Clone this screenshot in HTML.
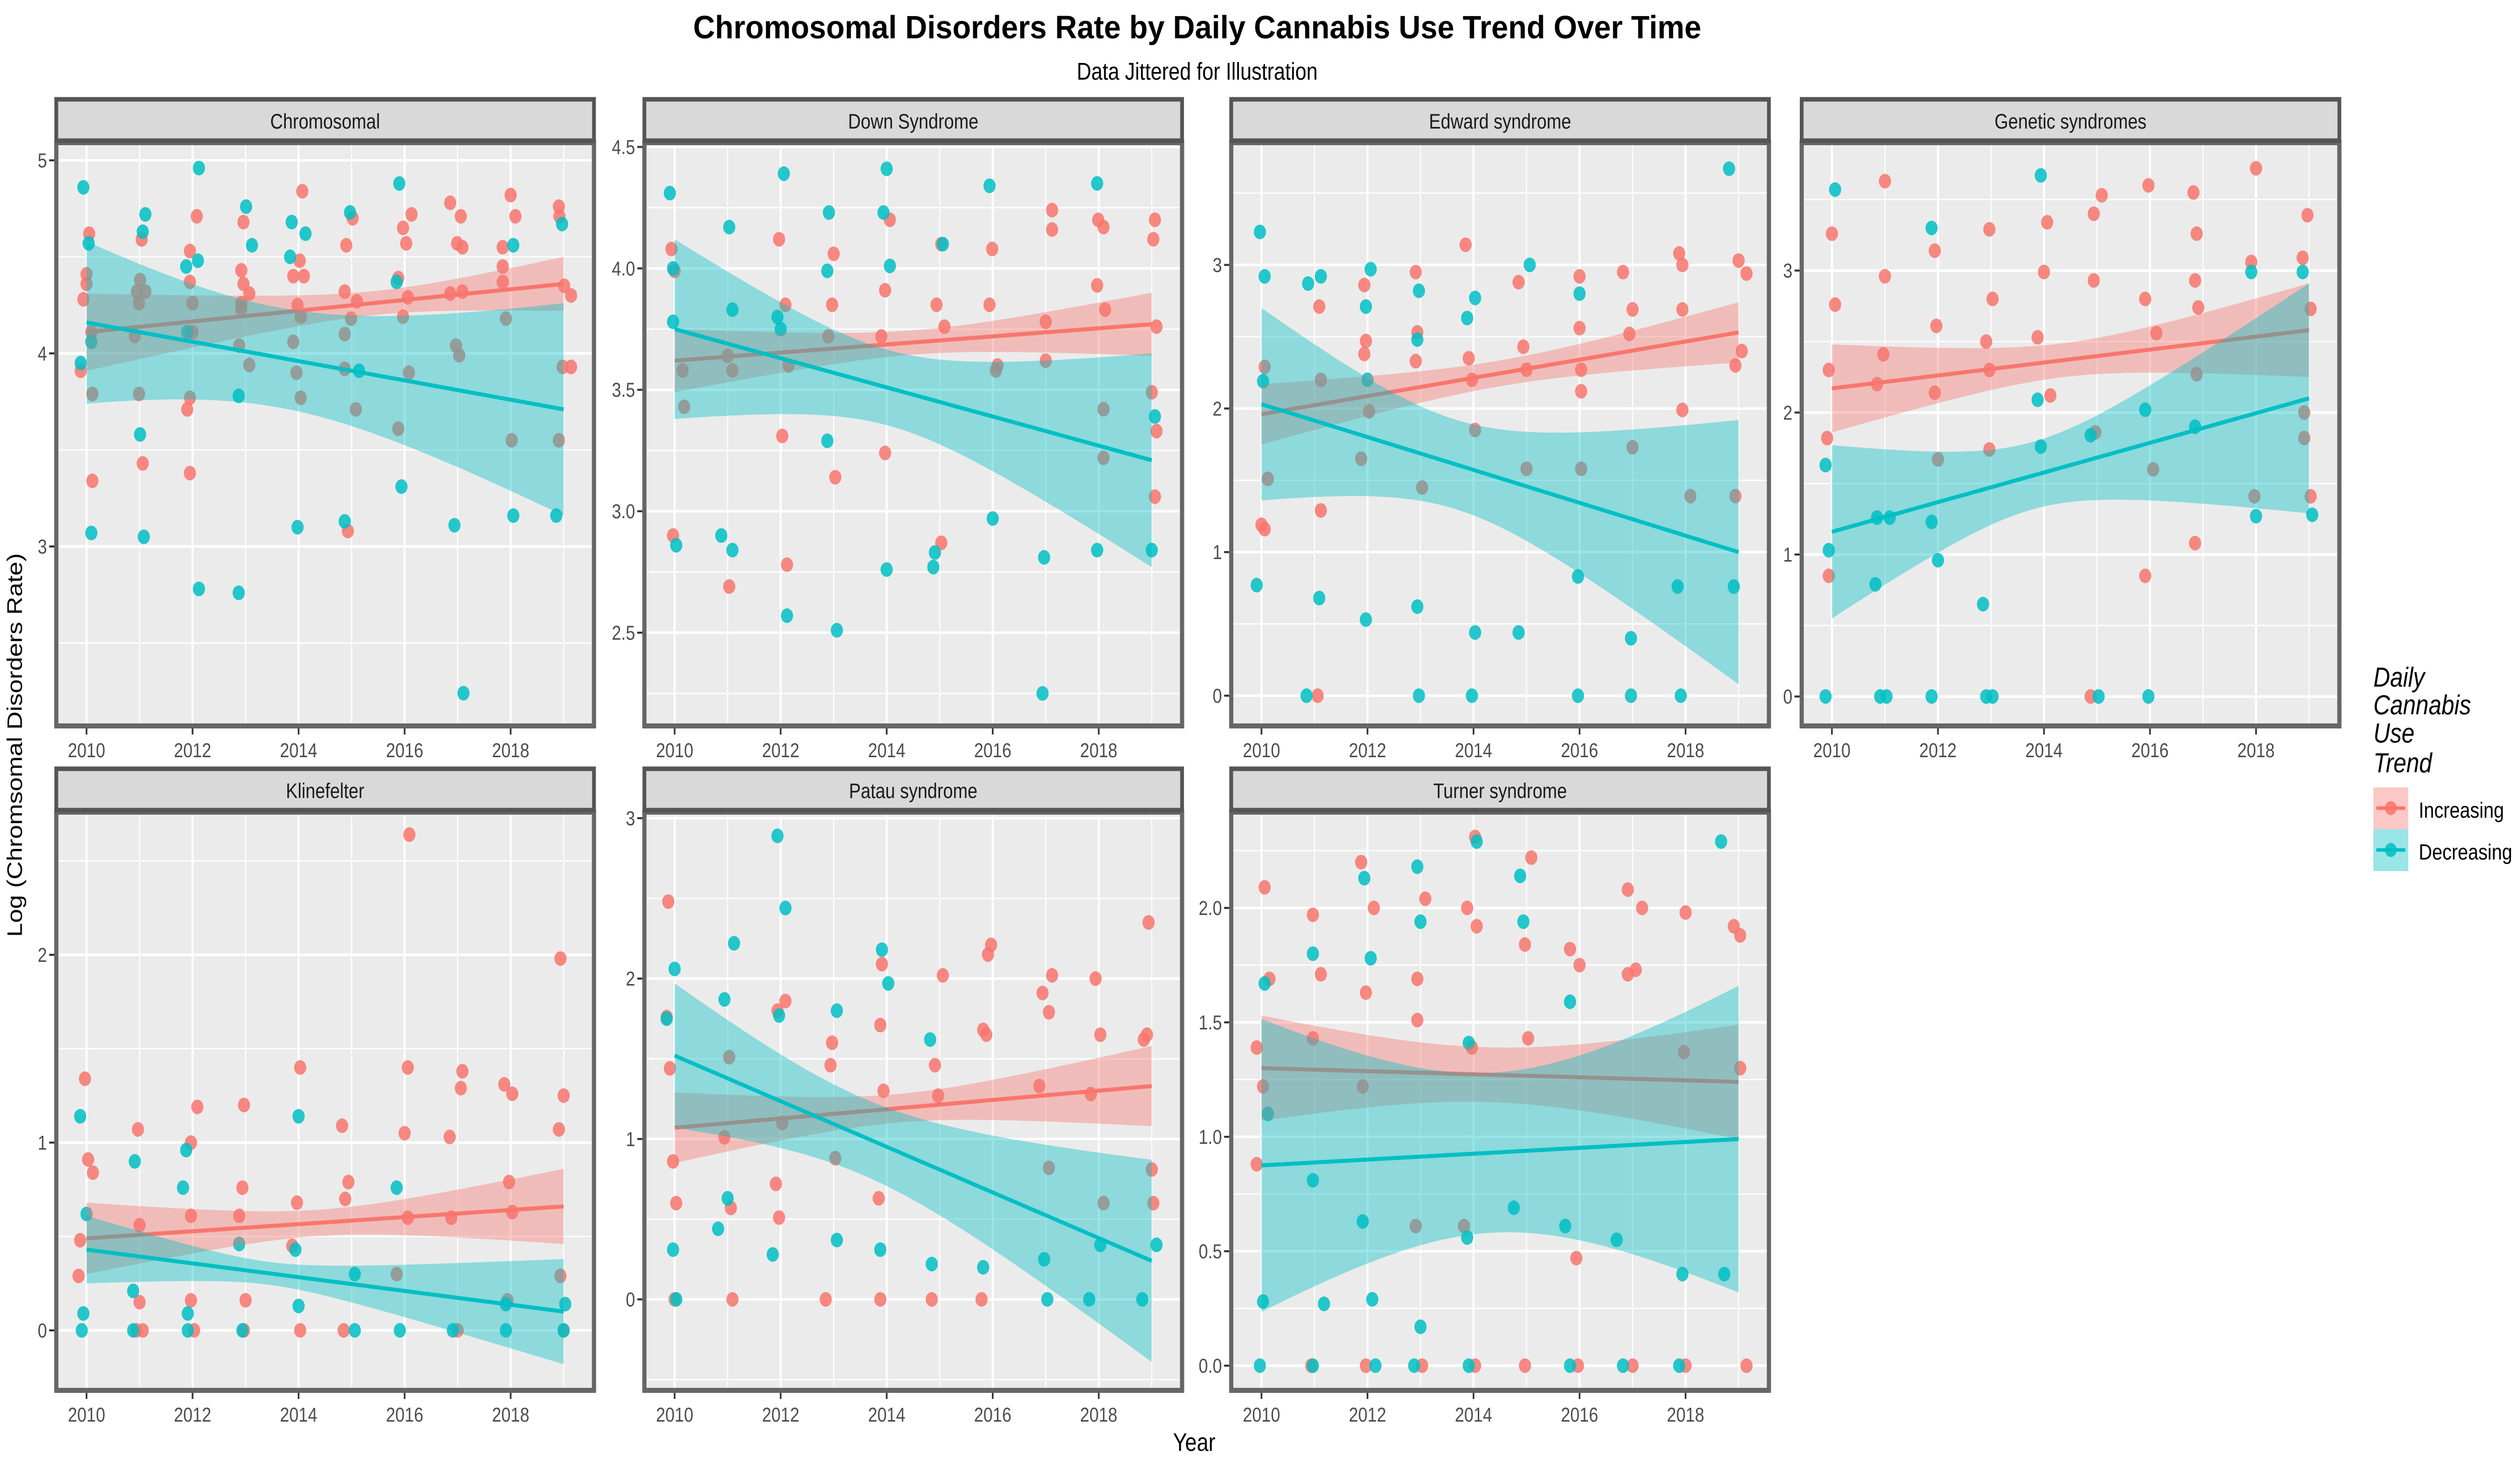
<!DOCTYPE html>
<html><head><meta charset="utf-8"><style>
html,body{margin:0;padding:0;background:#fff;overflow:hidden;width:100%;height:100%}
svg{display:block;width:100vw;height:100vh}
text{font-family:"Liberation Sans",sans-serif}
</style></head><body>
<svg id="chart" xmlns="http://www.w3.org/2000/svg" viewBox="0 0 5999 2912" preserveAspectRatio="none">
<rect x="0" y="0" width="5999" height="2912" fill="#ffffff"/>
<text x="2850" y="76" text-anchor="middle" font-size="64" font-weight="bold" fill="#000" textLength="2400" lengthAdjust="spacingAndGlyphs">Chromosomal Disorders Rate by Daily Cannabis Use Trend Over Time</text>
<text x="2850" y="158" text-anchor="middle" font-size="48" fill="#000">Data Jittered for Illustration</text>
<text x="2843" y="2878" text-anchor="middle" font-size="50" fill="#000">Year</text>
<text transform="translate(52,1478) rotate(-90)" text-anchor="middle" font-size="50" fill="#000">Log (Chromsomal Disorders Rate)</text>
<g id="panels"></g>
<g>
<text x="5650" y="1362" font-size="55" font-style="italic" fill="#000">Daily</text>
<text x="5650" y="1417" font-size="55" font-style="italic" fill="#000">Cannabis</text>
<text x="5650" y="1473" font-size="55" font-style="italic" fill="#000">Use</text>
<text x="5650" y="1532" font-size="55" font-style="italic" fill="#000">Trend</text>
<g>
<rect x="5650" y="1562" width="83" height="83" fill="#F8766D" fill-opacity="0.4"/>
<line x1="5657" y1="1603" x2="5726" y2="1603" stroke="#F8766D" stroke-width="7"/>
<circle cx="5691.5" cy="1603" r="14" fill="#F8766D" fill-opacity="0.85"/>
<text x="5758" y="1622" font-size="44" fill="#000">Increasing</text>
</g>
<g>
<rect x="5650" y="1645" width="83" height="83" fill="#00BFC4" fill-opacity="0.4"/>
<line x1="5657" y1="1686" x2="5726" y2="1686" stroke="#00BFC4" stroke-width="7"/>
<circle cx="5691.5" cy="1686" r="14" fill="#00BFC4" fill-opacity="0.85"/>
<text x="5758" y="1705" font-size="44" fill="#000">Decreasing</text>
</g>
</g>
</svg>
<script>
// ---------- data ----------
const panelNames = ["Chromosomal","Down Syndrome","Edward syndrome","Genetic syndromes","Klinefelter","Patau syndrome","Turner syndrome"];
const yearTicks = [2010,2012,2014,2016,2018];
const yMajorTicks = [[3,4,5],[2.5,3.0,3.5,4.0,4.5],[0,1,2,3],[0,1,2,3],[0,1,2],[0,1,2,3],[0.0,0.5,1.0,1.5,2.0]];
const yTickLabels = [["3","4","5"],["2.5","3.0","3.5","4.0","4.5"],["0","1","2","3"],["0","1","2","3"],["0","1","2"],["0","1","2","3"],["0.0","0.5","1.0","1.5","2.0"]];
// fitted line value at 2010 and 2019
const redFit = [[4.11,4.36],[3.62,3.77],[1.96,2.53],[2.17,2.58],[0.49,0.66],[1.07,1.33],[1.30,1.24]];
const tealFit = [[4.16,3.71],[3.75,3.21],[2.03,1.00],[1.16,2.10],[0.43,0.10],[1.52,0.24],[0.875,0.99]];
// CI half-widths at 2010, 2014.5, 2019
const redCI = [[0.20,0.07,0.14],[0.13,0.05,0.13],[0.21,0.09,0.21],[0.31,0.12,0.33],[0.19,0.07,0.20],[0.22,0.09,0.25],[0.23,0.12,0.25]];
const tealCI = [[0.42,0.27,0.55],[0.37,0.16,0.44],[0.67,0.34,0.92],[0.61,0.26,0.81],[0.18,0.08,0.28],[0.45,0.26,0.63],[0.64,0.35,0.67]];
// points [year, value]
const redPts = [
 [[2010.05,4.62],[2009.94,4.28],[2010,4.41],[2010,4.36],[2009.89,3.91],[2010.11,3.34],[2011.04,4.59],[2011.06,3.43],[2010.99,4.26],[2010.95,4.32],[2012.08,4.71],[2011.95,4.53],[2011.95,4.37],[2011.9,3.71],[2011.95,3.38],[2012.0,4.26],[2012.96,4.68],[2012.92,4.43],[2012.96,4.36],[2013.07,4.31],[2012.92,4.23],[2014.07,4.84],[2014.02,4.48],[2013.9,4.40],[2014.1,4.40],[2013.98,4.25],[2014.9,4.56],[2015.02,4.70],[2014.87,4.32],[2015.1,4.27],[2014.93,3.08],[2015.97,4.65],[2016.13,4.72],[2016.03,4.57],[2015.88,4.39],[2016.06,4.29],[2016.86,4.78],[2017.06,4.71],[2016.99,4.57],[2017.09,4.55],[2016.86,4.31],[2017.09,4.32],[2018.0,4.82],[2018.09,4.71],[2017.85,4.55],[2017.85,4.45],[2017.85,4.37],[2018.91,4.76],[2018.92,4.71],[2019.01,4.35],[2019.14,4.30],[2019.14,3.93],[2018.91,3.55],[2018.98,3.93],[2010.11,3.79],[2010.99,3.79],[2011.95,3.77],[2012.88,4.04],[2013.07,3.94],[2013.9,4.06],[2013.96,3.90],[2014.04,3.77],[2014.04,4.19],[2014.87,4.10],[2014.87,3.92],[2014.99,4.18],[2015.08,3.71],[2015.88,3.61],[2016.08,3.90],[2015.97,4.19],[2016.97,4.04],[2017.03,3.99],[2017.91,4.18],[2018.02,3.55],[2010.09,4.11],[2011.01,4.38],[2011.11,4.32],[2010.91,4.09],[2012.0,4.11],[2012.92,4.26]],
 [[2009.94,4.08],[2010,3.99],[2009.97,2.90],[2010.15,3.58],[2010.18,3.43],[2011.03,2.69],[2011.09,3.58],[2011.0,3.64],[2011.97,4.12],[2012.03,3.31],[2012.12,2.78],[2012.09,3.85],[2012.15,3.60],[2013.0,4.06],[2012.97,3.85],[2013.03,3.14],[2012.9,3.72],[2014.06,4.20],[2013.97,3.91],[2013.97,3.24],[2013.9,3.72],[2015.03,4.10],[2014.94,3.85],[2015.03,2.87],[2015.09,3.76],[2015.99,4.08],[2015.94,3.85],[2016.09,3.60],[2016.06,3.58],[2017.12,4.24],[2017.12,4.16],[2017.0,3.78],[2017.0,3.62],[2017.99,4.20],[2018.09,4.17],[2017.97,3.93],[2018.12,3.83],[2018.09,3.42],[2018.09,3.22],[2019.06,4.20],[2019.03,4.12],[2019.09,3.76],[2019.0,3.49],[2019.09,3.33],[2019.06,3.06]],
 [[2010.0,1.19],[2010.06,1.16],[2010.12,1.51],[2010.06,2.29],[2011.06,0],[2011.12,1.29],[2011.09,2.71],[2011.12,2.20],[2011.94,2.86],[2011.97,2.47],[2011.94,2.38],[2012.03,1.98],[2011.88,1.65],[2012.91,2.95],[2012.91,2.33],[2012.94,2.53],[2013.03,1.45],[2013.85,3.14],[2013.91,2.35],[2013.97,2.20],[2014.03,1.85],[2014.85,2.88],[2014.94,2.43],[2015.0,2.27],[2015.0,1.58],[2016.0,2.92],[2016.0,2.56],[2016.03,2.27],[2016.03,2.12],[2016.03,1.58],[2016.82,2.95],[2017.0,2.69],[2016.94,2.52],[2017.0,1.73],[2017.88,3.08],[2017.94,3.00],[2017.94,2.69],[2017.94,1.99],[2018.09,1.39],[2019.0,3.03],[2019.15,2.94],[2019.06,2.40],[2018.94,2.30],[2018.94,1.39]],
 [[2010.0,3.26],[2010.06,2.76],[2009.94,2.30],[2009.91,1.82],[2009.94,0.85],[2011.0,3.63],[2011.0,2.96],[2010.97,2.41],[2010.85,2.20],[2011.94,3.14],[2011.97,2.61],[2011.94,2.14],[2012.0,1.67],[2012.97,3.29],[2013.03,2.80],[2012.91,2.50],[2012.97,2.30],[2012.97,1.74],[2014.06,3.34],[2014.0,2.99],[2013.88,2.53],[2014.12,2.12],[2014.94,3.40],[2015.09,3.53],[2014.94,2.93],[2014.88,0],[2014.97,1.86],[2015.97,3.60],[2015.91,2.80],[2016.12,2.56],[2015.91,0.85],[2016.06,1.60],[2016.82,3.55],[2016.88,3.26],[2016.85,2.93],[2016.91,2.74],[2016.85,1.08],[2016.88,2.27],[2018.0,3.72],[2017.91,3.06],[2017.97,1.41],[2018.97,3.39],[2018.88,3.09],[2019.03,2.73],[2018.91,2.00],[2018.91,1.82],[2019.03,1.41]],
 [[2009.97,1.34],[2010.03,0.91],[2010.12,0.84],[2009.85,0.29],[2009.88,0.48],[2010.97,1.07],[2011.0,0.15],[2011.0,0.56],[2010.94,0],[2011.06,0],[2012.09,1.19],[2011.97,1.00],[2011.97,0.61],[2011.97,0.16],[2012.03,0],[2012.97,1.20],[2012.94,0.76],[2012.88,0.61],[2013.0,0.16],[2012.97,0],[2014.03,1.40],[2013.97,0.68],[2013.88,0.45],[2014.03,0],[2014.82,1.09],[2014.94,0.79],[2014.88,0.70],[2014.85,0],[2016.09,2.64],[2016.06,1.40],[2016.0,1.05],[2016.06,0.60],[2015.85,0.30],[2017.09,1.38],[2017.06,1.29],[2016.85,1.03],[2016.88,0.60],[2017.0,0],[2017.88,1.31],[2018.03,1.26],[2017.97,0.79],[2018.03,0.63],[2017.94,0.16],[2018.94,1.98],[2019.0,1.25],[2018.91,1.07],[2018.94,0.29],[2019.0,0]],
 [[2009.88,2.48],[2009.85,1.76],[2009.91,1.44],[2009.97,0.86],[2010.03,0.60],[2010.0,0],[2011.03,1.51],[2011.09,0],[2011.06,0.57],[2010.94,1.01],[2011.94,1.80],[2012.09,1.86],[2011.91,0.72],[2011.97,0.51],[2012.03,1.10],[2012.97,1.60],[2012.94,1.46],[2013.03,0.88],[2012.85,0],[2013.91,2.09],[2013.88,1.71],[2013.94,1.30],[2013.85,0.63],[2013.88,0],[2015.06,2.02],[2014.91,1.46],[2014.85,0],[2014.97,1.27],[2015.82,1.68],[2015.97,2.21],[2015.91,2.15],[2015.88,1.65],[2015.79,0],[2016.94,1.91],[2017.12,2.02],[2017.06,1.79],[2016.88,1.33],[2017.06,0.82],[2017.94,2.00],[2018.03,1.65],[2017.85,1.28],[2018.09,0.60],[2018.94,2.35],[2018.91,1.65],[2018.85,1.62],[2019.0,0.81],[2019.03,0.60]],
 [[2010.06,2.09],[2010.15,1.69],[2009.91,1.39],[2009.91,0.88],[2010.03,1.22],[2010.97,1.97],[2011.12,1.71],[2010.97,1.43],[2010.94,0],[2011.88,2.20],[2012.12,2.00],[2011.97,1.63],[2011.91,1.22],[2011.97,0],[2012.94,1.69],[2013.09,2.04],[2012.94,1.51],[2012.91,0.61],[2013.03,0],[2013.88,2.00],[2014.03,2.31],[2014.06,1.92],[2013.97,1.39],[2013.82,0.61],[2014.03,0],[2015.09,2.22],[2014.97,1.84],[2015.03,1.43],[2014.97,0],[2015.82,1.82],[2016.0,1.75],[2015.94,0.47],[2015.97,0],[2016.91,2.08],[2017.18,2.00],[2016.91,1.71],[2017.06,1.73],[2017.0,0],[2018.0,1.98],[2017.97,1.37],[2018.0,0],[2018.91,1.92],[2019.03,1.88],[2019.03,1.30],[2019.15,0]]
];
const tealPts = [
 [[2009.94,4.86],[2010.04,4.57],[2010.09,4.06],[2009.89,3.95],[2010.09,3.07],[2011.11,4.72],[2011.06,4.63],[2011.01,3.58],[2011.08,3.05],[2012.12,4.96],[2012.1,4.48],[2011.88,4.45],[2011.9,4.11],[2012.12,2.78],[2013.01,4.76],[2013.12,4.56],[2012.87,3.78],[2012.87,2.76],[2013.87,4.68],[2014.13,4.62],[2013.84,4.50],[2013.98,3.10],[2014.97,4.73],[2015.14,3.91],[2014.87,3.13],[2015.9,4.88],[2015.85,4.37],[2015.94,3.31],[2016.94,3.11],[2017.11,2.24],[2018.05,4.56],[2018.05,3.16],[2018.97,4.67],[2018.86,3.16]],
 [[2009.91,4.31],[2009.97,4.00],[2010.03,2.86],[2009.97,3.78],[2011.03,4.17],[2010.88,2.90],[2011.09,2.84],[2011.09,3.83],[2012.06,4.39],[2011.94,3.80],[2012.12,2.57],[2012.91,4.23],[2012.88,3.99],[2012.88,3.29],[2013.06,2.51],[2014.0,4.41],[2013.94,4.23],[2014.06,4.01],[2014.0,2.76],[2015.06,4.10],[2014.91,2.83],[2014.88,2.77],[2015.94,4.34],[2016.0,2.97],[2016.94,2.25],[2016.97,2.81],[2017.97,4.35],[2017.97,2.84],[2019.0,2.84],[2019.06,3.39],[2012.0,3.75]],
 [[2009.97,3.23],[2010.06,2.92],[2010.03,2.19],[2009.91,0.77],[2010.88,2.87],[2011.12,2.92],[2010.85,0],[2011.09,0.68],[2012.06,2.97],[2011.97,2.71],[2012.0,2.20],[2011.97,0.53],[2012.97,2.82],[2012.94,2.48],[2012.97,0],[2012.94,0.62],[2014.03,2.77],[2013.88,2.63],[2014.03,0.44],[2013.97,0],[2015.06,3.00],[2014.85,0.44],[2016.0,2.80],[2015.97,0.83],[2015.97,0],[2016.97,0.40],[2016.97,0],[2017.85,0.76],[2017.91,0],[2018.82,3.67],[2018.91,0.76]],
 [[2010.06,3.57],[2009.88,1.63],[2009.94,1.03],[2009.88,0],[2010.85,1.26],[2011.09,1.26],[2010.82,0.79],[2010.91,0],[2011.03,0],[2011.88,3.30],[2012.0,0.96],[2011.88,1.23],[2011.88,0],[2012.85,0.65],[2012.91,0],[2013.03,0],[2013.94,3.67],[2013.94,1.76],[2013.88,2.09],[2014.88,1.84],[2015.03,0],[2015.91,2.02],[2015.97,0],[2016.85,1.90],[2017.91,2.99],[2018.0,1.27],[2018.88,2.99],[2019.06,1.28]],
 [[2009.88,1.14],[2010.0,0.62],[2009.94,0.09],[2009.91,0],[2010.91,0.90],[2010.88,0.21],[2010.88,0],[2011.88,0.96],[2011.82,0.76],[2011.91,0.09],[2011.91,0],[2012.88,0.46],[2012.94,0],[2014.0,1.14],[2013.94,0.43],[2014.0,0.13],[2015.06,0.30],[2015.06,0],[2015.85,0.76],[2015.91,0],[2016.91,0],[2017.91,0],[2017.91,0.14],[2019.03,0.14],[2019.0,0]],
 [[2009.85,1.75],[2010.0,2.06],[2009.97,0.31],[2010.03,0],[2010.94,1.87],[2011.0,0.63],[2010.82,0.44],[2011.12,2.22],[2011.94,2.89],[2012.09,2.44],[2011.85,0.28],[2011.97,1.77],[2013.06,1.80],[2013.06,0.37],[2013.91,2.18],[2014.03,1.97],[2013.88,0.31],[2014.82,1.62],[2014.85,0.22],[2015.82,0.20],[2016.97,0.25],[2017.03,0],[2017.82,0],[2018.03,0.34],[2018.82,0],[2019.09,0.34]],
 [[2010.06,1.67],[2010.12,1.10],[2010.03,0.28],[2009.97,0],[2010.97,1.80],[2010.97,0.81],[2011.18,0.27],[2010.97,0],[2011.94,2.13],[2012.06,1.78],[2011.91,0.63],[2012.09,0.29],[2012.15,0],[2012.94,2.18],[2013.0,1.94],[2013.0,0.17],[2012.88,0],[2014.06,2.29],[2013.91,1.41],[2013.88,0.56],[2013.91,0],[2014.88,2.14],[2014.94,1.94],[2014.76,0.69],[2015.82,1.59],[2015.73,0.61],[2015.82,0],[2016.7,0.55],[2016.82,0],[2017.94,0.40],[2017.88,0],[2018.67,2.29],[2018.73,0.40]]
];
// ---------- layout ----------
const NS = "http://www.w3.org/2000/svg";
const colL = [134,1534,2931,4289];
const PW = 1280;
const rows = [{st:197,pt:283,pb:1440},{st:1525,pt:1611,pb:2758}];
const yCal = [[5,318,3,1084],[4.5,291.5,2.5,1255],[3,525.5,0,1380],[3,536.7,0,1381.6],[2,1894,0,2639],[3,1623,0,2577.5],[2,1801,0,2709]];
const RED = "#F8766D", TEAL = "#00BFC4";
function el(tag, attrs, parent){const e=document.createElementNS(NS,tag);for(const k in attrs)e.setAttribute(k,attrs[k]);parent.appendChild(e);return e;}
const root = document.getElementById("panels");
panelNames.forEach((name,i)=>{
  const L = colL[i%4], R = L+PW, row = rows[Math.floor(i/4)];
  const T = row.pt, B = row.pb;
  const c = yCal[i];
  const ys = v => c[1] + (v-c[0])*(c[3]-c[1])/(c[2]-c[0]);
  const xs = y => L + 72 + (y-2010)*126.2;
  const g = el("g",{},root);
  
  
  const cp = el("clipPath",{id:"clip"+i},g);
  el("rect",{x:L,y:T,width:PW,height:B-T},cp);
  const bg = el("rect",{x:L,y:T,width:PW,height:B-T,fill:"#EBEBEB"},g);
  
  
  const grid = el("g",{"clip-path":"url(#clip"+i+")"},g);
  
  
  const maj = yMajorTicks[i], step = maj[1]-maj[0];
  for(let v=maj[0]-step*1.5; v<=maj[maj.length-1]+step*1.5; v+=step/2){
    const isMaj = maj.some(m=>Math.abs(m-v)<1e-6);
    el("line",{x1:L,x2:R,y1:ys(v),y2:ys(v),stroke:"#fff","stroke-width":isMaj?5:2.5},grid);
  }
  for(let yr=2010; yr<=2019; yr++){
    el("line",{x1:xs(yr),x2:xs(yr),y1:T,y2:B,stroke:"#fff","stroke-width":yr%2===0?5:2.5},grid);
  }
  const marks = el("g",{"clip-path":"url(#clip"+i+")"},g);
  [[redPts[i],RED,'point-increasing'],[tealPts[i],TEAL,'point-decreasing']].forEach(([pts,col,nm])=>{
    pts.forEach(p=>{
      const ci = el("circle",{cx:xs(p[0]),cy:ys(p[1]),r:14.5,fill:col,"fill-opacity":0.85},marks);
      
      
    });
  });
  [[redFit[i],redCI[i],RED,'increasing'],[tealFit[i],tealCI[i],TEAL,'decreasing']].forEach(([fit,ci,col,nm])=>{
    const h2 = t => {
      const a=ci[0]**2,b=ci[1]**2,d=ci[2]**2, u=(t-2010)/9;
      return Math.sqrt(Math.max(0, a*(2*u-1)*(u-1) + b*4*u*(1-u) + d*u*(2*u-1)));
    };
    const up=[],lo=[];
    for(let k=0;k<=60;k++){
      const t=2010+9*k/60, m=fit[0]+(fit[1]-fit[0])*(t-2010)/9, h=h2(t);
      up.push(xs(t).toFixed(1)+","+ys(m+h).toFixed(1));
      lo.unshift(xs(t).toFixed(1)+","+ys(m-h).toFixed(1));
    }
    const rb = el("polygon",{points:up.concat(lo).join(" "),fill:col,"fill-opacity":0.4},marks);
    
    
    const ln = el("line",{x1:xs(2010),y1:ys(fit[0]),x2:xs(2019),y2:ys(fit[1]),stroke:col,"stroke-width":8},marks);
    
    
  });
  const border = el("rect",{x:L,y:T,width:PW,height:B-T,fill:"none",stroke:"#666","stroke-width":10},g);
  
  
  const strip = el("rect",{x:L,y:row.st,width:PW,height:T-row.st-4,fill:"#D9D9D9",stroke:"#555","stroke-width":9},g);
  
  
  const st = el("text",{x:L+PW/2,y:(row.st+T)/2+15,"text-anchor":"middle","font-size":42,fill:"#1A1A1A"},g);
  st.textContent = name;
  
  
  maj.forEach((v,j)=>{
    const y = ys(v);
    el("line",{x1:L-17,x2:L-5,y1:y,y2:y,stroke:"#333","stroke-width":4},g);
    const t = el("text",{x:L-22,y:y+14,"text-anchor":"end","font-size":40,fill:"#4D4D4D"},g);
    t.textContent = yTickLabels[i][j];
    
    
  });
  yearTicks.forEach(yr=>{
    const x = xs(yr);
    el("line",{x1:x,x2:x,y1:B+5,y2:B+17,stroke:"#333","stroke-width":4},g);
    const t = el("text",{x:x,y:B+62,"text-anchor":"middle","font-size":40,fill:"#4D4D4D"},g);
    t.textContent = yr;
    
    
  });
});
</script>
</body></html>
